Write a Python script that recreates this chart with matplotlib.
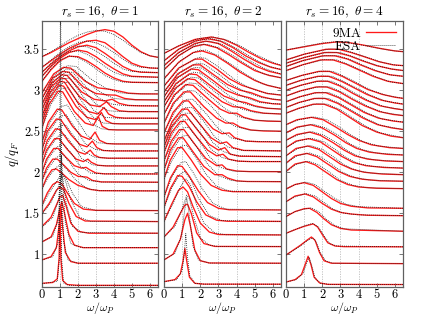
import matplotlib
matplotlib.use("Agg")
import matplotlib.pyplot as plt
from matplotlib.lines import Line2D

plt.rcParams['font.family'] = 'serif'
plt.rcParams['font.serif'] = ['cmr10', 'DejaVu Serif']
plt.rcParams['mathtext.fontset'] = 'cm'
plt.rcParams['axes.formatter.use_mathtext'] = True

# ---------------- data (omega/omega_P, vertically offset S) ----------------
titles = [r"$r_s=16,\ \theta=1$", r"$r_s=16,\ \theta=2$", r"$r_s=16,\ \theta=4$"]
legend_labels = ["9MA", "ESA"]

# theta = 1 : 9MA
ma_theta1 = [
    [(0,0.645),(0.6,0.655),(0.85,0.70),(0.95,0.95),(1.0,1.55),(1.05,0.95),(1.15,0.68),(1.4,0.63),(2,0.62),(6.5,0.62)],
    [(0,0.93),(0.5,0.97),(0.8,1.08),(0.95,1.35),(1.05,1.58),(1.15,1.32),(1.3,1.02),(1.6,0.91),(2.0,0.89),(6.5,0.89)],
    [(0,1.15),(0.5,1.21),(0.8,1.36),(1.0,1.56),(1.1,1.64),(1.25,1.5),(1.5,1.24),(1.8,1.11),(2.3,1.08),(6.5,1.08)],
    [(0,1.34),(0.5,1.45),(0.8,1.6),(1.0,1.7),(1.15,1.72),(1.35,1.58),(1.6,1.38),(2.0,1.28),(2.6,1.256),(6.5,1.256)],
    [(0,1.50),(0.4,1.62),(0.8,1.78),(1.0,1.82),(1.2,1.79),(1.5,1.62),(1.9,1.46),(2.4,1.405),(6.5,1.398)],
    [(0,1.60),(0.3,1.75),(0.6,1.85),(0.85,1.885),(1.1,1.86),(1.4,1.75),(1.8,1.62),(2.3,1.55),(3,1.535),(6.5,1.532)],
    [(0,1.80),(0.25,1.93),(0.55,2.03),(0.8,2.04),(1.1,1.99),(1.5,1.91),(2.0,1.84),(2.3,1.82),(2.7,1.79),(3.2,1.775),(6.5,1.772)],
    [(0,1.90),(0.25,2.05),(0.6,2.16),(0.85,2.16),(1.2,2.09),(1.6,2.0),(2.0,1.95),(2.3,1.945),(2.5,1.94),(2.8,1.9),(3.3,1.882),(6.5,1.878)],
    [(0,2.0),(0.25,2.16),(0.65,2.29),(0.9,2.29),(1.3,2.19),(1.8,2.08),(2.2,2.05),(2.45,2.06),(2.65,2.03),(3.0,1.99),(3.5,1.98),(6.5,1.979)],
    [(0,2.10),(0.25,2.27),(0.7,2.41),(0.95,2.41),(1.4,2.28),(1.9,2.16),(2.3,2.13),(2.55,2.16),(2.75,2.12),(3.1,2.085),(3.6,2.077),(6.5,2.077)],
    [(0,2.19),(0.3,2.39),(0.75,2.53),(1.0,2.52),(1.5,2.37),(2.0,2.25),(2.4,2.22),(2.68,2.27),(2.9,2.21),(3.2,2.18),(3.7,2.171),(6.5,2.171)],
    [(0,2.28),(0.3,2.50),(0.8,2.65),(1.05,2.64),(1.6,2.46),(2.1,2.34),(2.5,2.31),(2.8,2.38),(3.05,2.30),(3.4,2.265),(3.9,2.26),(6.5,2.26)],
    [(0,2.37),(0.35,2.61),(0.85,2.77),(1.1,2.76),(1.7,2.56),(2.2,2.44),(2.65,2.40),(2.95,2.49),(3.2,2.39),(3.6,2.35),(4.1,2.345),(6.5,2.345)],
    [(0,2.54),(0.4,2.83),(0.9,2.99),(1.15,2.98),(1.8,2.74),(2.4,2.6),(2.85,2.57),(3.13,2.68),(3.35,2.56),(3.7,2.52),(4.2,2.516),(6.5,2.516)],
    [(0,2.61),(0.4,2.9),(0.95,3.06),(1.2,3.05),(1.9,2.8),(2.5,2.67),(3.0,2.64),(3.3,2.73),(3.55,2.63),(3.9,2.595),(4.4,2.59),(6.5,2.59)],
    [(0,2.68),(0.45,2.97),(1.0,3.11),(1.25,3.10),(2.0,2.85),(2.6,2.74),(3.1,2.71),(3.45,2.79),(3.7,2.71),(4.1,2.67),(4.6,2.66),(6.5,2.659)],
    [(0,2.76),(0.5,3.04),(1.05,3.15),(1.3,3.14),(2.1,2.92),(2.7,2.82),(3.2,2.80),(3.59,2.86),(3.85,2.8),(4.3,2.75),(4.8,2.74),(6.5,2.739)],
    [(0,2.83),(0.55,3.09),(1.1,3.19),(1.4,3.18),(2.2,2.98),(2.9,2.89),(3.5,2.87),(3.9,2.89),(4.3,2.84),(4.8,2.815),(5.4,2.81),(6.5,2.809)],
    [(0,2.90),(0.6,3.15),(1.15,3.23),(1.5,3.22),(2.3,3.04),(3.0,2.96),(3.6,2.945),(4.1,2.94),(4.6,2.9),(5.2,2.885),(6.5,2.882)],
    [(0,2.97),(0.65,3.2),(1.2,3.28),(1.6,3.27),(2.4,3.11),(3.1,3.03),(3.8,3.01),(4.3,2.99),(4.8,2.965),(5.5,2.956),(6.5,2.955)],
    [(0,3.11),(0.5,3.25),(1,3.36),(1.5,3.415),(2,3.41),(2.5,3.36),(3,3.29),(3.5,3.21),(4,3.15),(4.5,3.11),(5,3.097),(6.5,3.093)],
    [(0,3.17),(0.5,3.29),(1,3.39),(1.5,3.46),(2,3.49),(2.5,3.47),(3,3.41),(3.5,3.33),(4,3.26),(4.5,3.2),(5,3.17),(6.5,3.159)],
    [(0,3.22),(0.5,3.32),(1,3.41),(1.5,3.48),(2,3.53),(2.5,3.55),(3,3.52),(3.5,3.45),(4,3.37),(4.5,3.29),(5,3.24),(5.5,3.22),(6.5,3.215)],
    [(0,3.28),(0.5,3.36),(1,3.44),(1.5,3.51),(2,3.56),(2.5,3.6),(3,3.61),(3.5,3.58),(4,3.5),(4.5,3.41),(5,3.33),(5.5,3.29),(6,3.272),(6.5,3.268)],
    [(0,3.41),(0.5,3.46),(1,3.52),(1.5,3.58),(2,3.63),(2.5,3.68),(3,3.72),(3.5,3.74),(4,3.72),(4.5,3.65),(5,3.55),(5.5,3.47),(6,3.42),(6.5,3.40)],
]
# theta = 1 : ESA
esa_theta1 = [
    [(0,0.64),(0.85,0.67),(0.97,0.95),(1.03,4.5),(1.09,0.95),(1.2,0.65),(1.5,0.62),(6.5,0.62)],
    [(0,0.93),(0.6,0.97),(0.9,1.15),(1.0,1.8),(1.05,2.6),(1.1,1.8),(1.2,1.15),(1.45,0.93),(2,0.89),(6.5,0.89)],
    [(0,1.15),(0.6,1.22),(0.9,1.42),(1.03,1.85),(1.09,2.2),(1.16,1.85),(1.3,1.38),(1.6,1.13),(2.2,1.08),(6.5,1.08)],
    [(0,1.33),(0.6,1.45),(0.9,1.65),(1.07,1.95),(1.15,1.93),(1.35,1.62),(1.7,1.34),(2.2,1.265),(6.5,1.256)],
    [(0,1.49),(0.5,1.63),(0.9,1.82),(1.12,1.98),(1.3,1.9),(1.6,1.66),(2.1,1.45),(2.7,1.40),(6.5,1.398)],
    [(0,1.59),(0.4,1.75),(0.8,1.88),(1.1,1.99),(1.35,1.92),(1.7,1.74),(2.2,1.58),(3,1.535),(6.5,1.532)],
    [(0,1.80),(0.35,1.94),(0.8,2.06),(1.1,2.10),(1.4,2.03),(1.9,1.90),(2.5,1.80),(3.2,1.775),(6.5,1.772)],
    [(0,1.90),(0.35,2.05),(0.8,2.18),(1.15,2.22),(1.5,2.13),(2.0,1.98),(2.6,1.9),(3.3,1.88),(6.5,1.878)],
    [(0,2.0),(0.35,2.17),(0.85,2.31),(1.2,2.34),(1.6,2.24),(2.1,2.08),(2.7,1.99),(3.4,1.98),(6.5,1.979)],
    [(0,2.10),(0.35,2.28),(0.9,2.44),(1.25,2.46),(1.7,2.34),(2.2,2.17),(2.8,2.09),(3.5,2.078),(6.5,2.077)],
    [(0,2.19),(0.4,2.39),(0.95,2.56),(1.3,2.58),(1.8,2.43),(2.3,2.26),(2.9,2.185),(3.6,2.172),(6.5,2.171)],
    [(0,2.28),(0.4,2.50),(1.0,2.68),(1.35,2.70),(1.9,2.52),(2.4,2.35),(3.0,2.275),(3.8,2.261),(6.5,2.26)],
    [(0,2.37),(0.45,2.61),(1.05,2.80),(1.4,2.82),(2.0,2.62),(2.5,2.45),(3.1,2.36),(3.9,2.346),(6.5,2.345)],
    [(0,2.54),(0.5,2.83),(1.1,3.02),(1.45,3.03),(2.1,2.8),(2.7,2.6),(3.3,2.53),(4.0,2.517),(6.5,2.516)],
    [(0,2.61),(0.5,2.9),(1.15,3.09),(1.5,3.10),(2.2,2.87),(2.8,2.68),(3.4,2.6),(4.1,2.591),(6.5,2.59)],
    [(0,2.68),(0.55,2.97),(1.2,3.14),(1.55,3.15),(2.3,2.92),(2.9,2.75),(3.5,2.67),(4.2,2.66),(6.5,2.659)],
    [(0,2.76),(0.6,3.04),(1.25,3.18),(1.6,3.19),(2.4,2.98),(3.0,2.83),(3.7,2.75),(4.4,2.74),(6.5,2.739)],
    [(0,2.83),(0.65,3.1),(1.3,3.22),(1.7,3.22),(2.5,3.03),(3.2,2.9),(3.9,2.83),(4.6,2.812),(6.5,2.809)],
    [(0,2.90),(0.7,3.15),(1.35,3.26),(1.8,3.25),(2.6,3.08),(3.3,2.97),(4.0,2.9),(4.8,2.884),(6.5,2.882)],
    [(0,2.97),(0.75,3.2),(1.4,3.30),(1.9,3.29),(2.7,3.14),(3.5,3.03),(4.3,2.97),(5.0,2.957),(6.5,2.955)],
    [(0,3.11),(0.5,3.26),(1,3.37),(1.5,3.42),(2,3.4),(2.5,3.34),(3,3.26),(3.5,3.18),(4,3.13),(4.5,3.1),(6.5,3.093)],
    [(0,3.17),(0.5,3.3),(1,3.41),(1.5,3.47),(2,3.48),(2.5,3.44),(3,3.37),(3.5,3.29),(4,3.22),(4.5,3.18),(5,3.165),(6.5,3.159)],
    [(0,3.22),(0.5,3.33),(1,3.43),(1.5,3.5),(2,3.54),(2.5,3.53),(3,3.48),(3.5,3.41),(4,3.33),(4.5,3.26),(5,3.23),(6.5,3.215)],
    [(0,3.28),(0.5,3.37),(1,3.46),(1.5,3.53),(2,3.58),(2.5,3.6),(3,3.58),(3.5,3.53),(4,3.46),(4.5,3.38),(5,3.31),(5.5,3.28),(6.5,3.268)],
    [(0,3.41),(0.5,3.47),(1,3.54),(1.5,3.61),(2,3.67),(2.5,3.71),(3,3.73),(3.5,3.72),(4,3.68),(4.5,3.61),(5,3.53),(5.5,3.46),(6,3.42),(6.5,3.40)],
]

# theta = 2 : 9MA
ma_theta2 = [
    [(0,0.665),(0.6,0.69),(0.9,0.76),(1.05,0.92),(1.15,1.07),(1.25,0.92),(1.4,0.72),(1.7,0.645),(2.2,0.635),(6.5,0.634)],
    [(0,0.93),(0.5,1.0),(0.9,1.18),(1.15,1.42),(1.3,1.50),(1.45,1.35),(1.7,1.05),(2.0,0.92),(2.5,0.893),(6.5,0.89)],
    [(0,1.21),(0.5,1.33),(0.9,1.5),(1.15,1.6),(1.3,1.61),(1.5,1.5),(1.8,1.26),(2.2,1.13),(2.8,1.095),(6.5,1.093)],
    [(0,1.40),(0.4,1.6),(0.8,1.78),(1.05,1.82),(1.3,1.76),(1.6,1.58),(2.0,1.38),(2.5,1.27),(3.0,1.24),(6.5,1.235)],
    [(0,1.57),(0.35,1.8),(0.75,1.96),(1.0,1.95),(1.4,1.82),(1.8,1.64),(2.3,1.48),(2.9,1.415),(3.5,1.402),(6.5,1.40)],
    [(0,1.70),(0.35,1.93),(0.75,2.08),(1.0,2.07),(1.4,1.95),(1.9,1.77),(2.4,1.63),(3.0,1.56),(3.6,1.542),(6.5,1.54)],
    [(0,1.92),(0.35,2.15),(0.75,2.3),(1.0,2.3),(1.5,2.15),(2.0,1.98),(2.6,1.84),(3.2,1.78),(3.8,1.763),(6.5,1.76)],
    [(0,2.03),(0.35,2.27),(0.8,2.42),(1.05,2.42),(1.6,2.25),(2.2,2.07),(2.8,1.97),(3.2,1.97),(3.5,1.93),(4.0,1.895),(4.6,1.887),(6.5,1.885)],
    [(0,2.14),(0.4,2.38),(0.85,2.52),(1.1,2.52),(1.7,2.34),(2.3,2.17),(2.9,2.08),(3.2,2.09),(3.45,2.04),(4.0,2.015),(4.7,2.008),(6.5,2.007)],
    [(0,2.24),(0.4,2.48),(0.9,2.62),(1.15,2.62),(1.8,2.43),(2.4,2.27),(2.9,2.2),(3.25,2.22),(3.55,2.16),(4.1,2.135),(4.8,2.13),(6.5,2.13)],
    [(0,2.31),(0.4,2.55),(0.95,2.7),(1.2,2.7),(1.9,2.5),(2.5,2.34),(3.0,2.27),(3.35,2.3),(3.65,2.22),(4.2,2.195),(6.5,2.19)],
    [(0,2.38),(0.45,2.62),(1.0,2.77),(1.3,2.77),(2.0,2.58),(2.6,2.42),(3.1,2.35),(3.45,2.37),(3.8,2.3),(4.4,2.266),(6.5,2.26)],
    [(0,2.48),(0.5,2.73),(1.05,2.87),(1.35,2.87),(2.1,2.68),(2.7,2.53),(3.2,2.47),(3.6,2.48),(3.9,2.42),(4.5,2.38),(5.2,2.372),(6.5,2.37)],
    [(0,2.60),(0.5,2.84),(1.1,2.98),(1.45,2.98),(2.2,2.8),(2.9,2.66),(3.4,2.6),(3.8,2.6),(4.2,2.55),(4.8,2.515),(5.5,2.503),(6.5,2.50)],
    [(0,2.71),(0.55,2.94),(1.2,3.07),(1.6,3.06),(2.4,2.9),(3.1,2.77),(3.6,2.72),(4.0,2.72),(4.4,2.67),(5.0,2.635),(5.7,2.623),(6.5,2.62)],
    [(0,2.80),(0.6,3.02),(1.3,3.14),(1.7,3.13),(2.5,2.98),(3.2,2.86),(3.8,2.8),(4.3,2.79),(4.8,2.75),(5.5,2.72),(6.5,2.71)],
    [(0,2.86),(0.65,3.08),(1.4,3.2),(1.8,3.19),(2.6,3.05),(3.3,2.93),(4.0,2.87),(4.5,2.85),(5.0,2.81),(5.7,2.78),(6.5,2.77)],
    [(0,2.92),(0.7,3.15),(1.5,3.26),(1.9,3.25),(2.7,3.12),(3.4,3.0),(4.1,2.94),(4.7,2.91),(5.3,2.86),(6.0,2.835),(6.5,2.83)],
    [(0,2.98),(0.75,3.2),(1.6,3.31),(2.0,3.31),(2.8,3.18),(3.5,3.07),(4.2,3.0),(4.8,2.97),(5.4,2.92),(6.0,2.89),(6.5,2.88)],
    [(0,3.05),(0.8,3.27),(1.7,3.38),(2.1,3.38),(2.9,3.26),(3.6,3.14),(4.3,3.06),(5.0,3.01),(5.7,2.96),(6.5,2.94)],
    [(0,3.14),(0.8,3.34),(1.6,3.46),(2.1,3.48),(2.8,3.43),(3.5,3.33),(4.2,3.22),(5.0,3.12),(5.7,3.06),(6.5,3.02)],
    [(0,3.25),(0.8,3.42),(1.6,3.53),(2.2,3.56),(2.9,3.52),(3.6,3.43),(4.3,3.33),(5.0,3.24),(5.8,3.18),(6.5,3.15)],
    [(0,3.30),(0.8,3.46),(1.7,3.57),(2.3,3.6),(3.0,3.57),(3.7,3.48),(4.4,3.38),(5.1,3.29),(5.8,3.23),(6.5,3.195)],
    [(0,3.36),(0.8,3.5),(1.7,3.6),(2.4,3.63),(3.1,3.6),(3.8,3.52),(4.5,3.42),(5.2,3.34),(5.9,3.28),(6.5,3.25)],
    [(0,3.45),(0.8,3.54),(1.7,3.62),(2.6,3.65),(3.3,3.62),(4.0,3.55),(4.7,3.46),(5.4,3.38),(6.0,3.33),(6.5,3.30)],
]
# theta = 2 : ESA
esa_theta2 = [
    [(0,0.665),(0.7,0.69),(1.0,0.8),(1.12,1.0),(1.2,1.25),(1.28,1.0),(1.42,0.74),(1.7,0.645),(2.2,0.635),(6.5,0.634)],
    [(0,0.93),(0.6,1.01),(0.95,1.22),(1.15,1.55),(1.25,1.69),(1.35,1.55),(1.6,1.1),(1.9,0.93),(2.5,0.892),(6.5,0.89)],
    [(0,1.21),(0.6,1.34),(1.0,1.55),(1.25,1.72),(1.4,1.68),(1.65,1.45),(2.0,1.2),(2.5,1.11),(3,1.094),(6.5,1.093)],
    [(0,1.40),(0.5,1.62),(0.9,1.82),(1.2,1.92),(1.45,1.85),(1.8,1.6),(2.2,1.38),(2.8,1.26),(3.4,1.237),(6.5,1.235)],
    [(0,1.57),(0.45,1.82),(0.9,1.98),(1.15,2.01),(1.5,1.9),(1.9,1.68),(2.5,1.47),(3.2,1.41),(6.5,1.40)],
    [(0,1.70),(0.45,1.95),(0.95,2.12),(1.2,2.13),(1.6,2.0),(2.1,1.8),(2.7,1.62),(3.4,1.55),(6.5,1.54)],
    [(0,1.92),(0.45,2.15),(0.95,2.32),(1.25,2.33),(1.7,2.2),(2.3,1.98),(2.9,1.83),(3.6,1.77),(6.5,1.76)],
    [(0,2.03),(0.45,2.27),(1.0,2.44),(1.3,2.45),(1.8,2.31),(2.4,2.1),(3.0,1.96),(3.7,1.9),(4.4,1.887),(6.5,1.885)],
    [(0,2.14),(0.5,2.38),(1.05,2.54),(1.35,2.55),(1.9,2.4),(2.5,2.19),(3.1,2.06),(3.8,2.015),(4.5,2.008),(6.5,2.007)],
    [(0,2.24),(0.5,2.48),(1.1,2.64),(1.4,2.64),(2.0,2.48),(2.6,2.28),(3.2,2.18),(3.9,2.14),(4.6,2.131),(6.5,2.13)],
    [(0,2.31),(0.5,2.56),(1.15,2.72),(1.5,2.72),(2.1,2.55),(2.7,2.36),(3.3,2.25),(4.0,2.2),(6.5,2.19)],
    [(0,2.38),(0.55,2.63),(1.2,2.79),(1.55,2.79),(2.2,2.62),(2.8,2.43),(3.5,2.31),(4.3,2.265),(6.5,2.26)],
    [(0,2.48),(0.6,2.74),(1.25,2.89),(1.6,2.89),(2.3,2.72),(3.0,2.53),(3.7,2.42),(4.5,2.38),(6.5,2.37)],
    [(0,2.60),(0.6,2.85),(1.3,3.0),(1.7,2.99),(2.5,2.83),(3.2,2.66),(3.9,2.56),(4.7,2.515),(6.5,2.50)],
    [(0,2.71),(0.65,2.95),(1.4,3.09),(1.8,3.08),(2.6,2.92),(3.4,2.77),(4.1,2.68),(4.9,2.635),(6.5,2.62)],
    [(0,2.80),(0.7,3.03),(1.5,3.16),(1.9,3.15),(2.7,3.0),(3.5,2.86),(4.3,2.77),(5.1,2.725),(6.5,2.71)],
    [(0,2.86),(0.75,3.09),(1.6,3.22),(2.0,3.21),(2.8,3.07),(3.6,2.93),(4.4,2.84),(5.2,2.79),(6.5,2.77)],
    [(0,2.92),(0.8,3.16),(1.7,3.28),(2.1,3.27),(2.9,3.14),(3.7,3.0),(4.5,2.91),(5.3,2.85),(6.5,2.83)],
    [(0,2.98),(0.85,3.21),(1.8,3.33),(2.2,3.32),(3.0,3.2),(3.8,3.06),(4.6,2.97),(5.4,2.91),(6.5,2.88)],
    [(0,3.05),(0.9,3.28),(1.9,3.4),(2.3,3.39),(3.1,3.27),(3.9,3.13),(4.7,3.03),(5.5,2.97),(6.5,2.94)],
    [(0,3.14),(0.9,3.36),(1.8,3.48),(2.3,3.49),(3.0,3.42),(3.8,3.3),(4.6,3.18),(5.4,3.08),(6.5,3.02)],
    [(0,3.25),(0.9,3.44),(1.8,3.55),(2.4,3.56),(3.1,3.51),(3.9,3.41),(4.7,3.29),(5.5,3.2),(6.5,3.15)],
    [(0,3.30),(0.9,3.47),(1.9,3.58),(2.5,3.6),(3.2,3.56),(4.0,3.46),(4.8,3.35),(5.6,3.26),(6.5,3.195)],
    [(0,3.36),(0.9,3.51),(1.9,3.61),(2.6,3.63),(3.3,3.59),(4.1,3.5),(4.9,3.39),(5.7,3.3),(6.5,3.25)],
    [(0,3.45),(0.9,3.55),(1.9,3.63),(2.7,3.65),(3.5,3.61),(4.3,3.53),(5.1,3.43),(5.9,3.35),(6.5,3.30)],
]

# theta = 4 : 9MA
ma_theta4 = [
    [(0,0.66),(0.5,0.69),(0.85,0.75),(1.05,0.87),(1.22,0.975),(1.38,0.87),(1.55,0.72),(1.85,0.65),(2.3,0.632),(6.5,0.63)],
    [(0,0.99),(0.4,1.05),(0.8,1.11),(1.15,1.17),(1.4,1.21),(1.6,1.17),(1.85,1.02),(2.1,0.92),(2.5,0.89),(6.5,0.885)],
    [(0,1.255),(0.5,1.3),(1.0,1.34),(1.5,1.37),(1.75,1.33),(2.0,1.24),(2.3,1.14),(2.7,1.1),(3.2,1.092),(6.5,1.09)],
    [(0,1.46),(0.5,1.52),(1.0,1.555),(1.3,1.56),(1.7,1.51),(2.1,1.43),(2.5,1.36),(3.0,1.315),(3.6,1.295),(6.5,1.28)],
    [(0,1.64),(0.5,1.71),(1.05,1.735),(1.5,1.7),(2.0,1.62),(2.5,1.55),(3.0,1.51),(3.6,1.49),(4.5,1.475),(6.5,1.47)],
    [(0,1.795),(0.5,1.85),(1.0,1.873),(1.5,1.84),(2.0,1.76),(2.5,1.68),(3.0,1.62),(3.6,1.585),(4.5,1.565),(6.5,1.56)],
    [(0,2.01),(0.5,2.1),(1.1,2.13),(1.6,2.09),(2.2,2.0),(2.8,1.91),(3.4,1.85),(4.0,1.82),(5.0,1.805),(6.5,1.80)],
    [(0,2.11),(0.5,2.2),(1.15,2.23),(1.7,2.19),(2.3,2.1),(2.9,2.01),(3.5,1.95),(4.2,1.915),(5.2,1.895),(6.5,1.89)],
    [(0,2.2),(0.55,2.29),(1.2,2.32),(1.8,2.28),(2.4,2.19),(3.0,2.1),(3.6,2.04),(4.3,2.0),(5.3,1.978),(6.5,1.97)],
    [(0,2.3),(0.55,2.38),(1.25,2.41),(1.9,2.37),(2.5,2.28),(3.1,2.19),(3.7,2.12),(4.4,2.08),(5.4,2.058),(6.5,2.05)],
    [(0,2.39),(0.6,2.46),(1.3,2.49),(1.9,2.45),(2.6,2.36),(3.2,2.27),(3.8,2.2),(4.5,2.16),(5.5,2.137),(6.5,2.13)],
    [(0,2.48),(0.6,2.55),(1.35,2.58),(2.0,2.54),(2.7,2.45),(3.3,2.36),(3.9,2.29),(4.6,2.245),(5.6,2.218),(6.5,2.21)],
    [(0,2.58),(0.6,2.64),(1.4,2.67),(2.05,2.64),(2.75,2.55),(3.4,2.46),(4.0,2.39),(4.7,2.335),(5.7,2.3),(6.5,2.29)],
    [(0,2.72),(0.7,2.78),(1.5,2.83),(2.1,2.83),(2.8,2.77),(3.5,2.67),(4.2,2.57),(5.0,2.49),(5.8,2.44),(6.5,2.42)],
    [(0,2.79),(0.7,2.85),(1.55,2.9),(2.15,2.9),(2.85,2.84),(3.55,2.75),(4.25,2.66),(5.05,2.58),(5.85,2.54),(6.5,2.52)],
    [(0,2.86),(0.75,2.92),(1.6,2.97),(2.2,2.97),(2.9,2.91),(3.6,2.82),(4.3,2.73),(5.1,2.66),(5.9,2.625),(6.5,2.61)],
    [(0,2.93),(0.75,2.99),(1.65,3.04),(2.25,3.04),(2.95,2.98),(3.65,2.89),(4.35,2.81),(5.15,2.74),(5.9,2.705),(6.5,2.69)],
    [(0,3.0),(0.8,3.06),(1.7,3.11),(2.3,3.11),(3.0,3.05),(3.7,2.96),(4.4,2.88),(5.2,2.81),(6.0,2.775),(6.5,2.76)],
    [(0,3.06),(0.8,3.12),(1.75,3.17),(2.35,3.17),(3.05,3.11),(3.75,3.03),(4.45,2.95),(5.25,2.88),(6.0,2.845),(6.5,2.83)],
    [(0,3.12),(0.85,3.18),(1.8,3.23),(2.4,3.23),(3.1,3.17),(3.8,3.09),(4.5,3.01),(5.3,2.95),(6.0,2.915),(6.5,2.90)],
    [(0,3.24),(0.9,3.31),(1.9,3.37),(2.6,3.37),(3.3,3.32),(4.0,3.25),(4.8,3.17),(5.6,3.11),(6.5,3.08)],
    [(0,3.29),(0.9,3.36),(2.0,3.42),(2.7,3.42),(3.4,3.38),(4.1,3.31),(4.9,3.24),(5.7,3.19),(6.5,3.17)],
    [(0,3.33),(1.0,3.4),(2.1,3.46),(2.8,3.46),(3.5,3.42),(4.2,3.36),(5.0,3.3),(5.8,3.26),(6.5,3.24)],
    [(0,3.37),(1.0,3.44),(2.2,3.5),(2.9,3.5),(3.6,3.46),(4.3,3.41),(5.1,3.35),(5.9,3.31),(6.5,3.30)],
    [(0,3.49),(1.0,3.53),(2.0,3.57),(2.8,3.59),(3.5,3.58),(4.3,3.55),(5.2,3.51),(6.0,3.48),(6.5,3.47)],
]
# theta = 4 : ESA
esa_theta4 = [
    [(0,0.66),(0.55,0.69),(0.95,0.77),(1.15,0.9),(1.28,0.965),(1.43,0.85),(1.6,0.71),(1.9,0.645),(2.4,0.632),(6.5,0.63)],
    [(0,0.99),(0.45,1.05),(0.85,1.11),(1.2,1.17),(1.47,1.2),(1.67,1.15),(1.9,1.01),(2.2,0.915),(2.6,0.89),(6.5,0.885)],
    [(0,1.255),(0.5,1.3),(1.0,1.345),(1.45,1.375),(1.75,1.34),(2.05,1.24),(2.4,1.13),(2.8,1.1),(6.5,1.09)],
    [(0,1.46),(0.5,1.52),(1.0,1.55),(1.4,1.565),(1.8,1.52),(2.2,1.43),(2.7,1.35),(3.2,1.31),(6.5,1.28)],
    [(0,1.64),(0.5,1.7),(1.1,1.74),(1.6,1.71),(2.1,1.63),(2.6,1.55),(3.2,1.5),(4.0,1.48),(6.5,1.47)],
    [(0,1.795),(0.5,1.85),(1.1,1.88),(1.6,1.85),(2.1,1.77),(2.7,1.68),(3.3,1.61),(4.0,1.58),(6.5,1.56)],
    [(0,2.01),(0.6,2.1),(1.25,2.135),(1.8,2.09),(2.4,2.0),(3.0,1.9),(3.7,1.84),(4.5,1.81),(6.5,1.80)],
    [(0,2.11),(0.6,2.2),(1.3,2.235),(1.9,2.19),(2.5,2.1),(3.1,2.0),(3.8,1.935),(4.6,1.905),(6.5,1.89)],
    [(0,2.2),(0.65,2.29),(1.35,2.325),(2.0,2.28),(2.6,2.19),(3.2,2.09),(3.9,2.02),(4.7,1.99),(6.5,1.97)],
    [(0,2.3),(0.65,2.38),(1.4,2.415),(2.1,2.37),(2.7,2.28),(3.3,2.18),(4.0,2.105),(4.8,2.07),(6.5,2.05)],
    [(0,2.39),(0.7,2.46),(1.45,2.495),(2.1,2.45),(2.8,2.36),(3.4,2.26),(4.1,2.185),(4.9,2.15),(6.5,2.13)],
    [(0,2.48),(0.7,2.55),(1.5,2.585),(2.2,2.54),(2.9,2.45),(3.5,2.35),(4.2,2.275),(5.0,2.235),(6.5,2.21)],
    [(0,2.58),(0.7,2.64),(1.55,2.675),(2.25,2.64),(2.95,2.55),(3.6,2.45),(4.3,2.37),(5.1,2.32),(6.5,2.29)],
    [(0,2.72),(0.8,2.785),(1.7,2.835),(2.3,2.83),(3.0,2.76),(3.7,2.66),(4.4,2.56),(5.2,2.48),(6.5,2.42)],
    [(0,2.79),(0.8,2.855),(1.75,2.905),(2.35,2.9),(3.05,2.83),(3.75,2.74),(4.45,2.65),(5.25,2.57),(6.5,2.52)],
    [(0,2.86),(0.85,2.925),(1.8,2.975),(2.4,2.97),(3.1,2.9),(3.8,2.81),(4.5,2.72),(5.3,2.65),(6.5,2.61)],
    [(0,2.93),(0.85,2.995),(1.85,3.045),(2.45,3.04),(3.15,2.97),(3.85,2.88),(4.55,2.8),(5.35,2.73),(6.5,2.69)],
    [(0,3.0),(0.9,3.065),(1.9,3.115),(2.5,3.11),(3.2,3.04),(3.9,2.95),(4.6,2.87),(5.4,2.8),(6.5,2.76)],
    [(0,3.06),(0.9,3.125),(1.95,3.175),(2.55,3.17),(3.25,3.1),(3.95,3.02),(4.65,2.94),(5.45,2.87),(6.5,2.83)],
    [(0,3.12),(0.95,3.185),(2.0,3.235),(2.6,3.23),(3.3,3.16),(4.0,3.08),(4.7,3.0),(5.5,2.94),(6.5,2.90)],
    [(0,3.24),(1.0,3.315),(2.1,3.375),(2.8,3.37),(3.5,3.31),(4.2,3.24),(5.0,3.16),(5.8,3.1),(6.5,3.08)],
    [(0,3.29),(1.0,3.365),(2.2,3.425),(2.9,3.42),(3.6,3.37),(4.3,3.3),(5.1,3.23),(5.9,3.18),(6.5,3.17)],
    [(0,3.33),(1.1,3.405),(2.3,3.465),(3.0,3.46),(3.7,3.41),(4.4,3.35),(5.2,3.29),(6.0,3.25),(6.5,3.24)],
    [(0,3.37),(1.1,3.445),(2.4,3.505),(3.1,3.5),(3.8,3.45),(4.5,3.4),(5.3,3.34),(6.1,3.305),(6.5,3.30)],
    [(0,3.49),(1.0,3.535),(2.0,3.575),(2.6,3.59),(3.3,3.585),(4.1,3.555),(5.0,3.515),(5.8,3.485),(6.5,3.47)],
]

ma_sets = [ma_theta1, ma_theta2, ma_theta4]
esa_sets = [esa_theta1, esa_theta2, esa_theta4]
x_ticks = [0, 1, 2, 3, 4, 5, 6]
y_ticks = [1, 1.5, 2, 2.5, 3, 3.5]
y_tick_labels = ['1', '1.5', '2', '2.5', '3', '3.5']
grid_x = [1, 2, 3, 4]

# ---------------- figure ----------------
W, H = 424, 317
fig = plt.figure(figsize=(W / 100, H / 100), dpi=100)
bottom = (H - 287) / H
height = (287 - 21) / H
lefts = [42, 164, 286]
widths = [116, 117, 117]
spine_col = '#606060'
red = '#ff1a1a'
esa_style = dict(color='#1a1a1a', lw=0.6, ls=(0, (1, 1.4)))

for i in range(3):
    ax = fig.add_axes([lefts[i] / W, bottom, widths[i] / W, height])
    ax.set_xlim(0, 6.45)
    ax.set_ylim(0.6, 3.845)
    for gx in grid_x:
        ax.axvline(gx, color='#bdbdbd', lw=0.6, ls=(0, (1.5, 1.5)), zorder=0)
    for curve in ma_sets[i]:
        xs = [p[0] for p in curve]
        ys = [p[1] for p in curve]
        ax.plot(xs, ys, color=red, lw=0.95, zorder=2, solid_joinstyle='round')
    for curve in esa_sets[i]:
        xs = [p[0] for p in curve]
        ys = [p[1] for p in curve]
        ax.plot(xs, ys, zorder=3, **esa_style)
    ax.set_xticks(x_ticks)
    ax.set_yticks(y_ticks)
    ax.tick_params(direction='in', top=True, right=True, length=3, width=0.6,
                   color=spine_col, labelsize=9, pad=1.5)
    if i == 0:
        ax.set_yticklabels(y_tick_labels)
        ax.set_ylabel(r'$q/q_F$', fontsize=9, labelpad=2)
    else:
        ax.set_yticklabels([])
    ax.set_xticklabels([str(t) for t in x_ticks])
    ax.set_xlabel(r'$\omega/\omega_P$', fontsize=8.5)
    ax.xaxis.set_label_coords(0.5, -0.05)
    ax.xaxis.label.set_va('top')
    ax.set_title(titles[i], fontsize=9.5, pad=4)
    for s in ax.spines.values():
        s.set_color(spine_col)
        s.set_linewidth(0.9)
    if i == 2:
        handles = [Line2D([], [], color=red, lw=0.95),
                   Line2D([], [], **esa_style)]
        ax.legend(handles, legend_labels, loc='upper right', frameon=False,
                  markerfirst=False, fontsize=9.5, handlelength=2.3,
                  handletextpad=0.4, borderaxespad=0.1, labelspacing=0.05)

fig.savefig('out.png', dpi=100)
